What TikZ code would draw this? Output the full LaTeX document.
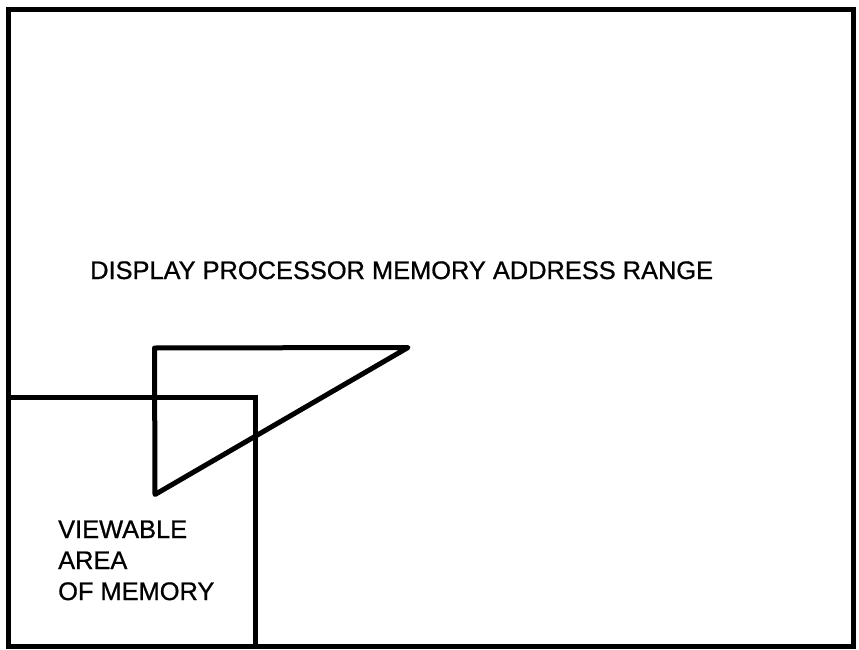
\documentclass[tikz,border=0pt]{standalone}
\usepackage{fontspec}
\setmainfont{Liberation Sans}[FakeBold=0.8]
\newfontfamily\lblfont{Liberation Sans}[FakeBold=0.8]
\begin{document}
\begin{tikzpicture}[x=1pt,y=-1pt,
  frame/.style={line width=5pt},
  lbl/.style={font=\lblfont\fontsize{25.4}{31}\selectfont, inner sep=0pt, anchor=base west}]
\useasboundingbox (0,0) rectangle (859,650);
% outer memory range
\coordinate (o1) at (8.5,9.5);
\coordinate (o2) at (853,646);
\draw[frame] (o1) rectangle (o2);
% viewable area
\coordinate (v1) at (8.5,397.5);
\coordinate (v2) at (255.5,646);
\draw[frame] (v2) -- (v2 |- v1) -- (v1);
% triangle
\coordinate (t1) at (154.5,348);
\coordinate (t2) at (408,347.5);
\coordinate (t3) at (155,494.5);
\draw[frame, line join=round] (t1) -- (t2) -- (t3) -- cycle;
% labels
\node[lbl] (title) at (90,279) {DISPLAY PROCESSOR MEMORY ADDRESS RANGE};
\node[lbl] (view1) at (58,538) {VIEWABLE};
\node[lbl] (view2) at (58,569) {AREA};
\node[lbl] (view3) at (58,600) {OF MEMORY};
\end{tikzpicture}
\end{document}
